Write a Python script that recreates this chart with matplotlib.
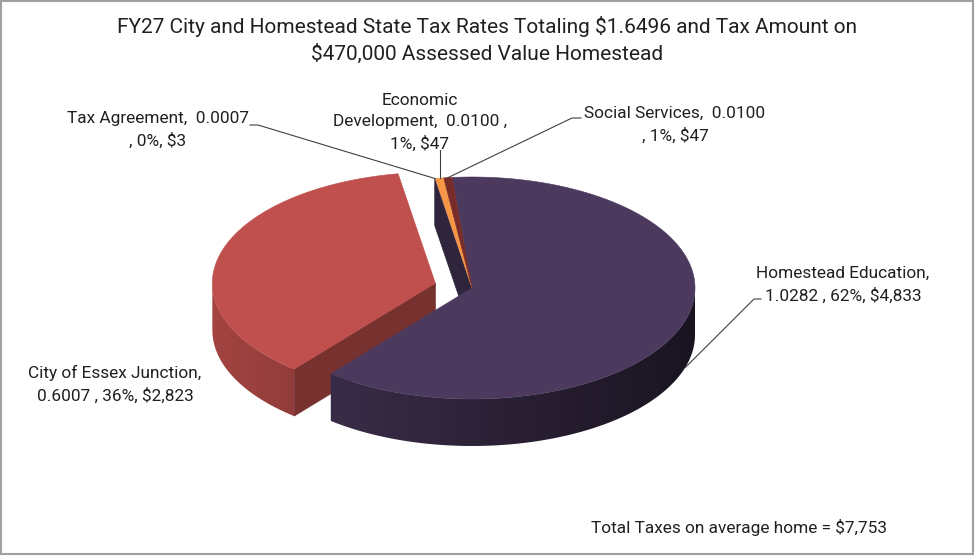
import numpy as np
import matplotlib.pyplot as plt
from matplotlib.patches import Polygon, Rectangle
from matplotlib.colors import to_rgb

categories = ["Homestead Education", "City of Essex Junction", "Tax Agreement",
              "Economic Development", "Social Services"]
rates = [1.0282, 0.6007, 0.0007, 0.0100, 0.0100]
taxes = [4833, 2823, 3, 47, 47]
total_tax = 7753
assessed = 470000
colors = ["#4B3A5E", "#C0504D", "#4A3B63", "#F79646", "#772C2A"]
explode = [0, 0.17, 0, 0, 0]

plt.rcParams['font.family'] = ['Roboto', 'DejaVu Sans']

fig = plt.figure(figsize=(9.75, 5.56), dpi=100)
ax = fig.add_axes([0, 0, 1, 1])
ax.set_xlim(0, 975)
ax.set_ylim(556, 0)
ax.axis('off')

# 3d pie geometry (screen units, y down)
cx, cy = 472, 288
rx, ry = 223, 111
depth = 47
start = -5.1  # first slice starts here, degrees clockwise from 12 o'clock

total = sum(rates)
frac = np.array(rates) / total
edges = start + 360 * np.concatenate([[0], np.cumsum(frac)])


def pt(th, ox, oy, z=0.0):
    t = np.radians(th)
    return ox + rx * np.sin(t), oy - ry * np.cos(t) + z


def shade(c, f):
    r, g, b = to_rgb(c)
    return (r * f, g * f, b * f)


def offset(i):
    mid = np.radians((edges[i] + edges[i + 1]) / 2)
    e = explode[i]
    return cx + e * rx * np.sin(mid), cy - e * ry * np.cos(mid)


n = len(rates)
groups = {}
for i in range(n):
    groups.setdefault(explode[i], []).append(i)
# back groups first
order = sorted(groups.keys(), key=lambda e: min(offset(i)[1] for i in groups[e]))

for e in order:
    idx = groups[e]
    # radial faces towards a gap
    for i in idx:
        ox, oy = offset(i)
        a0, a1 = edges[i], edges[i + 1]
        prev = (i - 1) % n
        nxt = (i + 1) % n
        for a, vis, nb in ((a0, np.sin(np.radians(a0)) < 0, prev),
                           (a1, np.sin(np.radians(a1)) > 0, nxt)):
            if vis and explode[nb] != explode[i]:
                p = pt(a, ox, oy)
                q = [(ox, oy), p, (p[0], p[1] + depth), (ox, oy + depth)]
                col = shade(colors[i], 0.62)
                ax.add_patch(Polygon(q, closed=True, fc=col, ec=col, lw=0.5))
    # outer walls (front half only), shaded left to right
    for i in idx:
        ox, oy = offset(i)
        a0, a1 = edges[i], edges[i + 1]
        for k in (-360, 0, 360):
            lo, hi = max(a0, 90 + k), min(a1, 270 + k)
            if hi <= lo:
                continue
            ts = np.linspace(lo, hi, int(hi - lo) * 2 + 2)
            top = [pt(t, ox, oy) for t in ts]
            bot = [pt(t, ox, oy, depth) for t in ts[::-1]]
            poly = Polygon(top + bot, closed=True, fc='none', ec='none')
            ax.add_patch(poly)
            xs = np.linspace(-1, 1, 256)
            grad = np.array([shade(colors[i], 0.60 - 0.25 * s) for s in xs])[None, :, :]
            ys = [p[1] for p in top + bot]
            im = ax.imshow(grad, extent=(ox - rx, ox + rx, max(ys) + 1, min(ys) - 1),
                           aspect='auto', interpolation='bilinear', zorder=1)
            im.set_clip_path(poly)
            ax.add_patch(Polygon(top + bot, closed=True, fc='none', lw=0, zorder=1))
    # top faces
    for i in idx:
        ox, oy = offset(i)
        ts = np.linspace(edges[i], edges[i + 1], max(int(360 * frac[i]), 2) + 1)
        arc = [pt(t, ox, oy) for t in ts]
        ax.add_patch(Polygon([(ox, oy)] + arc, closed=True, fc=colors[i],
                             ec=colors[i], lw=0.4, zorder=1))

ax.set_xlim(0, 975)
ax.set_ylim(556, 0)


def label_text(i):
    pct = f"{frac[i] * 100:.0f}%"
    amt = f"${taxes[i]:,}"
    v = f"{rates[i]:.4f}"
    name = categories[i]
    if i < 2:
        return f"{name},\n{v} , {pct}, {amt}"
    if i == 3:
        return name.replace(" ", "\n", 1) + f",  {v} ,\n{pct}, {amt}"
    return f"{name},  {v}\n, {pct}, {amt}"


label_pos = [(843, 285), (115, 384), (158, 130), (420, 122), (675, 125)]
fs = 12.4
for i in range(n):
    ax.text(label_pos[i][0], label_pos[i][1], label_text(i), ha='center',
            va='center', fontsize=fs, color='#202020', linespacing=1.5, zorder=3)

# leader lines
lc = '#404040'
mid = [(edges[i] + edges[i + 1]) / 2 for i in range(n)]
hx, hy = pt(mid[0], cx, cy, depth)
ax.plot([761, 754, hx], [299, 299, hy], color=lc, lw=0.8, zorder=2)
tx, ty = pt(mid[2], cx, cy)
ax.plot([250, 258, tx], [125, 125, ty], color=lc, lw=0.8, zorder=2)
ex, ey = pt(mid[3], cx, cy)
ax.plot([ex, ex], [150, ey], color=lc, lw=0.8, zorder=2)
sx, sy = pt(mid[4], cx, cy)
ax.plot([581, 572, sx], [118, 118, sy], color=lc, lw=0.8, zorder=2)

ax.text(487, 40, f"FY27 City and Homestead State Tax Rates Totaling ${total:.4f} and Tax Amount on\n"
        f"${assessed:,} Assessed Value Homestead", ha='center', va='center',
        fontsize=15, color='#202020', linespacing=1.4, zorder=3)
ax.text(739, 527, f"Total Taxes on average home = ${total_tax:,}", ha='center',
        va='center', fontsize=fs, color='#202020', zorder=3)

ax.add_patch(Rectangle((1, 1), 972, 553, fill=False, ec='#A0A0A0', lw=1.5, zorder=4))

fig.savefig("out.png", dpi=100)
